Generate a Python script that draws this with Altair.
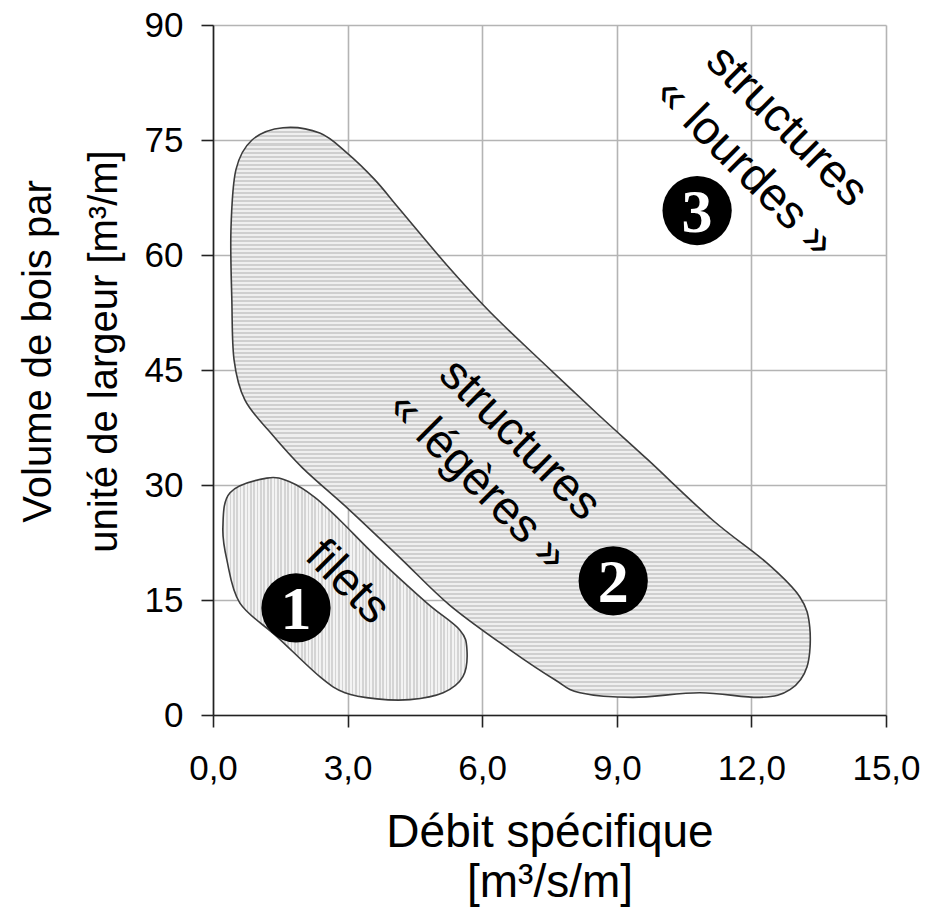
import altair as alt
import pandas as pd

# Zone 2 outline: "structures légères" (specific discharge, wood volume)
leg_x = [0.42, 0.40, 0.51, 0.87, 1.56, 2.38, 2.99, 3.61, 4.17, 5.21, 6.17, 7.29,
         8.62, 9.69, 11.14, 12.35, 13.08, 13.30, 13.24, 12.86, 12.19, 10.85, 9.36,
         8.18, 7.62, 6.62, 5.28, 4.17, 3.05, 2.00, 1.27, 0.71, 0.47]
leg_y = [54.1, 63.3, 71.1, 75.0, 76.6, 75.9, 73.3, 69.8, 65.9, 58.7, 52.6, 46.3,
         39.0, 33.3, 25.4, 19.8, 15.4, 11.5, 6.3, 3.3, 2.3, 2.9, 2.3,
         2.9, 4.6, 8.5, 14.3, 20.5, 26.7, 32.2, 36.9, 41.1, 46.3]

# Zone 1 outline: "filets"
fil_x = [1.20, 1.72, 2.27, 2.83, 3.65, 4.77, 5.50, 5.66, 5.57, 5.13, 4.39, 3.65,
         2.94, 2.38, 1.43, 0.60, 0.31, 0.22, 0.38]
fil_y = [30.9, 30.4, 28.4, 25.4, 20.6, 14.6, 11.1, 8.5, 5.0, 2.9, 2.0, 2.1,
         2.9, 5.0, 10.2, 14.6, 20.2, 24.5, 29.0]

# Numbered badges
badge_x = [1.85, 8.92, 10.79]
badge_y = [13.96, 17.5, 65.8]
badge_txt = ["1", "2", "3"]

# Zone labels (anchor = centre of the first line)
label_x = [3.0, 6.84, 12.79]
label_y = [17.3, 35.9, 76.8]
label_txt = ["filets", "structures\n« légères »", "structures\n« lourdes »"]

x_ticks = [0, 3, 6, 9, 12, 15]
y_ticks = [0, 15, 30, 45, 60, 75, 90]

SANS = "Liberation Sans, Arial, Helvetica, sans-serif"


def stripes(n, dark, light, horizontal):
    """Hatch-like fill made of alternating bands of a linear gradient."""
    stops = []
    for i in range(n):
        a = i / n
        m = (i + 0.5) / n
        b = (i + 1) / n
        stops += [
            alt.GradientStop(offset=a, color=dark),
            alt.GradientStop(offset=m, color=dark),
            alt.GradientStop(offset=m, color=light),
            alt.GradientStop(offset=b, color=light),
        ]
    if horizontal:
        return alt.LinearGradient(gradient="linear", stops=stops, x1=0, y1=0, x2=0, y2=1)
    return alt.LinearGradient(gradient="linear", stops=stops, x1=0, y1=0, x2=1, y2=0)


leg_df = pd.DataFrame({"q": leg_x, "v": leg_y, "i": range(len(leg_x))})
fil_df = pd.DataFrame({"q": fil_x, "v": fil_y, "i": range(len(fil_x))})
badge_df = pd.DataFrame({"q": badge_x, "v": badge_y, "t": badge_txt})
label_df = pd.DataFrame({"q": label_x, "v": label_y, "t": label_txt})

x_scale = alt.Scale(domain=[0, 15], nice=False, zero=False)
y_scale = alt.Scale(domain=[0, 90], nice=False, zero=False)

x_enc = alt.X(
    "q:Q", scale=x_scale,
    axis=alt.Axis(
        values=x_ticks,
        labelExpr="replace(format(datum.value, '.1f'), '.', ',')",
        labelFlush=False,
        title=["Débit spécifique", "[m³/s/m]"],
        titleFontSize=46, titleLineHeight=50, titlePadding=24,
        labelPadding=24,
    ),
)
y_enc = alt.Y(
    "v:Q", scale=y_scale,
    axis=alt.Axis(
        values=y_ticks, format="d",
        title=["Volume de bois par", "unité de largeur [m³/m]"],
        titleFontSize=40, titleLineHeight=66, titlePadding=20,
        titleY=326,
        labelPadding=18,
    ),
)

zone2 = alt.Chart(leg_df).mark_line(
    interpolate="cardinal-closed",
    fill=stripes(142, "#cfcfcf", "#efefef", True),
    stroke="#3c3c3c", strokeWidth=1.6,
).encode(x=x_enc, y=y_enc, order="i:Q")

zone1 = alt.Chart(fil_df).mark_line(
    interpolate="cardinal-closed",
    fill=stripes(72, "#d4d4d4", "#f3f3f3", False),
    stroke="#3c3c3c", strokeWidth=1.6,
).encode(x="q:Q", y="v:Q", order="i:Q")

badges = alt.Chart(badge_df).mark_circle(
    size=4800, color="black", opacity=1,
).encode(x="q:Q", y="v:Q")

badge_num = alt.Chart(badge_df).mark_text(
    font="Liberation Serif, DejaVu Serif, serif", fontWeight="bold",
    fontSize=62, color="white", align="center", baseline="middle", dy=2,
).encode(x="q:Q", y="v:Q", text="t:N")

labels = alt.Chart(label_df).mark_text(
    font=SANS, fontSize=47, color="black", angle=45,
    align="center", baseline="middle", lineBreak="\n", lineHeight=59,
).encode(x="q:Q", y="v:Q", text="t:N")

chart = alt.layer(zone2, zone1, badges, badge_num, labels).properties(
    width=673, height=690,
    autosize=alt.AutoSizeParams(type="none"),
    padding={"left": 213, "top": 25, "right": 44, "bottom": 202},
).configure_view(
    stroke=None,
).configure_axis(
    labelFont=SANS, titleFont=SANS,
    labelFontSize=35, labelColor="black", titleColor="black",
    titleFontWeight="normal",
    domainColor="#222222", domainWidth=1.6,
    tickColor="#222222", tickWidth=1.6, tickSize=12,
    gridColor="#b4b4b4", gridWidth=1.6,
)

chart.save("out.html", embed_options={"renderer": "svg", "actions": False})
